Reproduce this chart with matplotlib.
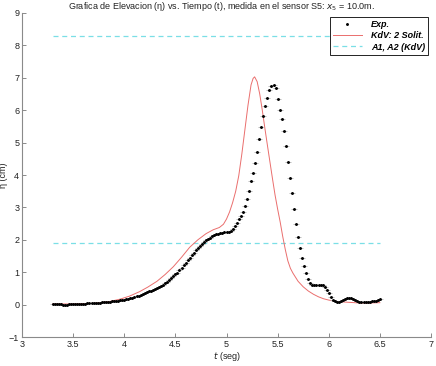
import numpy as np
import matplotlib
matplotlib.use("Agg")
import matplotlib.pyplot as plt

plt.rcParams["font.family"] = ["Liberation Sans", "DejaVu Sans"]

# -----------------------------
# Data
# -----------------------------

# measured elevation (every 0.02 s, from 3.30 s to 6.50 s)
t_exp_start = 3.30
t_exp_step = 0.02
eta_exp = [
    0.02, 0.02, 0.01, 0.01, 0.01, 0.00, 0.00, 0.00, 0.01, 0.01,   # 3.30 - 3.48
    0.01, 0.02, 0.02, 0.02, 0.03, 0.03, 0.03, 0.04, 0.04, 0.05,   # 3.50 - 3.68
    0.05, 0.05, 0.06, 0.06, 0.07, 0.07, 0.08, 0.09, 0.09, 0.10,   # 3.70 - 3.88
    0.11, 0.11, 0.12, 0.13, 0.14, 0.15, 0.16, 0.17, 0.19, 0.21,   # 3.90 - 4.08
    0.24, 0.26, 0.28, 0.31, 0.33, 0.36, 0.38, 0.41, 0.43, 0.46,   # 4.10 - 4.28
    0.48, 0.51, 0.54, 0.58, 0.62, 0.66, 0.71, 0.76, 0.81, 0.87,   # 4.30 - 4.48
    0.93, 0.99, 1.06, 1.13, 1.21, 1.29, 1.37, 1.45, 1.53, 1.60,   # 4.50 - 4.68
    1.67, 1.74, 1.81, 1.87, 1.93, 1.98, 2.03, 2.07, 2.11, 2.14,   # 4.70 - 4.88
    2.17, 2.19, 2.21, 2.22, 2.23, 2.24, 2.25, 2.28, 2.33, 2.42,   # 4.90 - 5.08
    2.53, 2.63, 2.74, 2.87, 3.05, 3.26, 3.52, 3.80, 4.05, 4.36,   # 5.10 - 5.28
    4.70, 5.10, 5.48, 5.82, 6.12, 6.38, 6.62, 6.75, 6.77, 6.68,   # 5.30 - 5.48
    6.35, 6.00, 5.72, 5.37, 4.90, 4.40, 3.92, 3.43, 2.95, 2.50,   # 5.50 - 5.68
    2.10, 1.75, 1.45, 1.18, 0.97, 0.80, 0.68, 0.61, 0.60, 0.60,   # 5.70 - 5.88
    0.61, 0.60, 0.59, 0.53, 0.45, 0.35, 0.22, 0.14, 0.11, 0.09,   # 5.90 - 6.08
    0.09, 0.11, 0.14, 0.17, 0.19, 0.20, 0.19, 0.17, 0.15, 0.12,   # 6.10 - 6.28
    0.09, 0.08, 0.07, 0.07, 0.08, 0.09, 0.10, 0.11, 0.12, 0.14,   # 6.30 - 6.48
    0.16,                                                         # 6.50
]
t_exp = np.round(t_exp_start + t_exp_step * np.arange(len(eta_exp)), 2)

# KdV two-soliton solution
t_kdv = [3.30, 3.50, 3.70, 3.85, 3.96, 4.05, 4.15, 4.23, 4.32, 4.40,
         4.48, 4.56, 4.64, 4.72, 4.80, 4.87, 4.93, 4.97, 5.00, 5.03,
         5.06, 5.09, 5.12, 5.15, 5.18, 5.21, 5.24, 5.26, 5.275, 5.30,
         5.325, 5.35, 5.375, 5.40, 5.425, 5.45, 5.475, 5.50, 5.525, 5.55,
         5.575, 5.60, 5.625, 5.65, 5.70, 5.75, 5.80, 5.85, 5.90, 5.95,
         6.00, 6.05, 6.10, 6.20, 6.30, 6.40, 6.50]
eta_kdv = [0.02, 0.02, 0.04, 0.09, 0.17, 0.26, 0.40, 0.54, 0.72, 0.93,
           1.17, 1.46, 1.77, 2.00, 2.19, 2.31, 2.38, 2.48, 2.64, 2.86,
           3.15, 3.50, 3.98, 4.65, 5.40, 6.15, 6.78, 6.98, 7.03, 6.88,
           6.50, 6.00, 5.45, 4.92, 4.40, 3.88, 3.38, 2.95, 2.55, 2.10,
           1.70, 1.35, 1.12, 0.97, 0.72, 0.55, 0.42, 0.32, 0.24, 0.18,
           0.14, 0.11, 0.09, 0.07, 0.05, 0.05, 0.06]

# amplitudes A1, A2 of the KdV solitons
amp_levels = [8.3, 1.9]
amp_t = [3.30, 6.50]

# -----------------------------
# Plot
# -----------------------------

fig = plt.figure(figsize=(4.36, 3.66), dpi=100)
ax = fig.add_axes([0.0505, 0.0792, 0.938, 0.8853])

axis_grey = "#8a8a8a"
fs = 6.5

# dashed amplitude lines
for i, a in enumerate(amp_levels):
    ax.plot(amp_t, [a, a], color="#7adfe6", lw=0.9, dashes=(4, 3),
            label="A1, A2 (KdV)" if i == 0 else None, zorder=1)

ax.plot(t_kdv, eta_kdv, color="#ea6e6d", lw=0.7, label="KdV: 2 Solit.", zorder=2)

# measured points: small dot with grey smear like the MATLAB export
ax.plot(t_exp, eta_exp, ls="none", marker="_", ms=4.5, mew=0.6,
        color="#b0b0b0", zorder=3)
ax.plot(t_exp, eta_exp, ls="none", marker=".", ms=2.2, color="black",
        label="Exp.", zorder=4)

ax.set_xlim(3, 7)
ax.set_ylim(-1, 9)
ax.set_xticks([3, 3.5, 4, 4.5, 5, 5.5, 6, 6.5, 7])
ax.set_xticklabels(["3", "3.5", "4", "4.5", "5", "5.5", "6", "6.5", "7"])
ax.set_yticks(range(-1, 10))

for side in ["top", "right"]:
    ax.spines[side].set_visible(False)
for side in ["left", "bottom"]:
    ax.spines[side].set_color(axis_grey)
    ax.spines[side].set_linewidth(0.8)

ax.tick_params(direction="in", length=3, width=0.7, color=axis_grey,
               labelsize=fs, labelcolor="#222222", pad=2)

ax.set_xlabel(r"$\it{t}$ (seg)", fontsize=fs, color="#222222", labelpad=1)
ax.set_ylabel("η (cm)", fontsize=fs, color="#222222", labelpad=1)

handles, labels = ax.get_legend_handles_labels()
order = [labels.index("Exp."), labels.index("KdV: 2 Solit."),
         labels.index("A1, A2 (KdV)")]
leg = ax.legend([handles[i] for i in order], [labels[i] for i in order],
                loc="upper right", bbox_to_anchor=(0.993, 0.988),
                fancybox=False, framealpha=1, edgecolor="black",
                handlelength=3.2, handletextpad=1.0, borderpad=0.35,
                labelspacing=0.25, borderaxespad=0,
                prop={"size": fs, "weight": "bold", "style": "italic"})
leg.get_frame().set_linewidth(0.6)
for h in leg.legend_handles:
    if hasattr(h, "set_markersize"):
        h.set_markersize(2.2)

# title right at the top edge
fig.text(0.507, 1 - 9 / 366,
         r"Grafica de Elevacion (η) vs. Tiempo (t), medida en el sensor S5: $x_5$ = 10.0m.",
         ha="center", va="baseline", fontsize=fs, color="#222222")

fig.savefig("out.png", dpi=100)
